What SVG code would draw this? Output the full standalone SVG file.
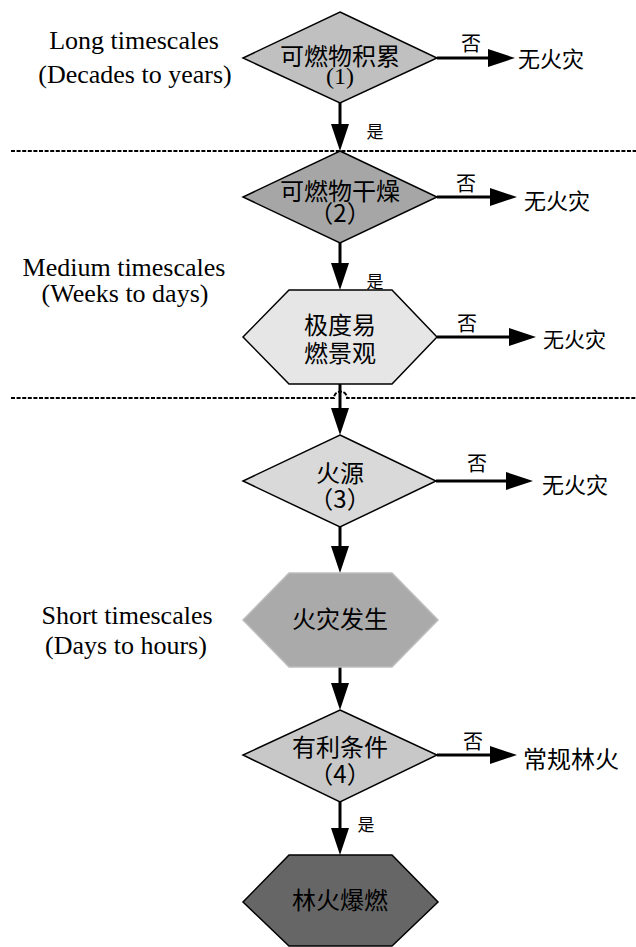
<svg xmlns="http://www.w3.org/2000/svg" width="636" height="947" viewBox="0 0 636 947">
<defs>
<marker id="ah" markerUnits="userSpaceOnUse" markerWidth="28" markerHeight="18" refX="19" refY="9" orient="auto">
<path d="M0,0 L27,9 L0,18 Z" fill="#000"/>
</marker>
<style>
.shape{stroke:#000;stroke-width:1.5;}
.conn{stroke:#000;stroke-width:3;fill:none;marker-end:url(#ah);}
.dash{stroke:#000;stroke-width:2;fill:none;stroke-dasharray:4 1.6;}
.cjk{font-family:"Noto Sans CJK SC","Noto Sans CJK TC",sans-serif;fill:#000;dominant-baseline:central;}
.lbl{font-family:"Liberation Serif","Times New Roman",serif;font-size:26px;fill:#000;text-anchor:middle;}
.c24{font-size:24px;text-anchor:middle;}
.lab{font-size:20px;}
.yes{font-size:17px;text-anchor:middle;}
.out{font-size:22px;}
</style>
</defs>
<rect width="636" height="947" fill="#fff"/>

<g id="timescale-labels">
<text class="lbl" x="134" y="49">Long timescales</text>
<text class="lbl" x="135" y="83">(Decades to years)</text>
<text class="lbl" x="124" y="276">Medium timescales</text>
<text class="lbl" x="125" y="302">(Weeks to days)</text>
<text class="lbl" x="127" y="624">Short timescales</text>
<text class="lbl" x="126" y="654">(Days to hours)</text>
</g>

<g id="dividers">
<path class="dash" d="M11,151 H636"/>
<path class="dash" d="M11,398 H334 A6.5,6.5 0 0 1 347,398 H636"/>
</g>

<g id="connectors">
<line class="conn" x1="437" y1="58" x2="507" y2="58"/>
<line class="conn" x1="340" y1="103" x2="340" y2="143"/>
<line class="conn" x1="437" y1="197" x2="509" y2="197"/>
<line class="conn" x1="340" y1="243" x2="340" y2="282"/>
<line class="conn" x1="437" y1="337" x2="528" y2="337"/>
<line class="conn" x1="340" y1="384" x2="340" y2="427"/>
<line class="conn" x1="436" y1="481" x2="525" y2="481"/>
<line class="conn" x1="340" y1="527" x2="340" y2="565"/>
<line class="conn" x1="340" y1="667" x2="340" y2="702"/>
<line class="conn" x1="437" y1="755" x2="509" y2="755"/>
<line class="conn" x1="340" y1="802" x2="340" y2="847"/>
<text class="cjk lab" x="471" y="42" text-anchor="middle">否</text>
<text class="cjk yes" x="375" y="130">是</text>
<text class="cjk lab" x="466" y="182" text-anchor="middle">否</text>
<text class="cjk yes" x="375" y="280">是</text>
<text class="cjk lab" x="467" y="322" text-anchor="middle">否</text>
<text class="cjk lab" x="477" y="462" text-anchor="middle">否</text>
<text class="cjk lab" x="473" y="740" text-anchor="middle">否</text>
<text class="cjk yes" x="366" y="823">是</text>
</g>

<g id="n1">
<polygon class="shape" points="340,12 437,58 340,103 243,58" fill="#c0c0c0"/>
<text class="cjk c24" x="340" y="54">可燃物积累<tspan x="340" y="76" font-family="Liberation Serif, serif">(1)</tspan></text>
</g>
<g id="n1-no"><text class="cjk out" x="518" y="57">无火灾</text></g>

<g id="n2">
<polygon class="shape" points="340,151 437,197 340,243 243,197" fill="#a6a6a6"/>
<text class="cjk c24" x="340" y="189">可燃物干燥<tspan x="340" y="211">（2）</tspan></text>
</g>
<g id="n2-no"><text class="cjk out" x="524" y="199">无火灾</text></g>

<g id="n3">
<polygon class="shape" points="289,290 392,290 437,337 392,384 289,384 243,337" fill="#e6e6e6"/>
<text class="cjk c24" x="340" y="323">极度易<tspan x="340" y="351">燃景观</tspan></text>
</g>
<g id="n3-no"><text class="cjk" x="543" y="338" font-size="21">无火灾</text></g>

<g id="n4">
<polygon class="shape" points="340,435 436,481 340,527 243,481" fill="#d9d9d9"/>
<text class="cjk c24" x="340" y="471">火源<tspan x="340" y="497">（3）</tspan></text>
</g>
<g id="n4-no"><text class="cjk out" x="542" y="483">无火灾</text></g>

<g id="n5">
<polygon points="289,573 392,573 438,620 392,667 289,667 243,620" fill="#aaaaaa" stroke="#bdbdbd" stroke-width="1.5"/>
<text class="cjk c24" x="340" y="617">火灾发生</text>
</g>

<g id="n6">
<polygon class="shape" points="340,710 437,755 340,802 243,755" fill="#c8c8c8"/>
<text class="cjk c24" x="340" y="745">有利条件<tspan x="340" y="772">（4）</tspan></text>
</g>
<g id="n6-no"><text class="cjk" x="523" y="757" font-size="24">常规林火</text></g>

<g id="n7">
<polygon class="shape" points="289,855 392,855 438,902 392,946 289,946 243,902" fill="#666666"/>
<text class="cjk c24" x="340" y="898">林火爆燃</text>
</g>
</svg>
